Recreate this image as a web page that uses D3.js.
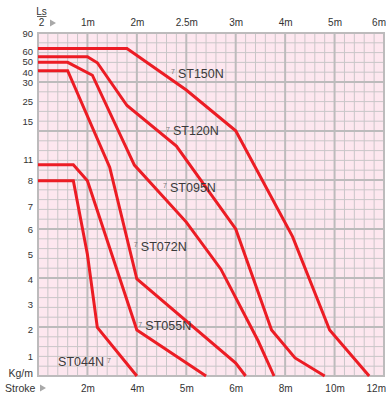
<!DOCTYPE html>
<html>
<head>
<meta charset="utf-8">
<title>Stroke / load chart</title>
<style>
  body { margin: 0; background: #fff; }
  svg text { font-family: "Liberation Sans", Arial, sans-serif; }
</style>
</head>
<body>
<svg id="chart" width="386" height="396"></svg>
<script src="https://cdn.jsdelivr.net/npm/d3@7/dist/d3.min.js"></script>
<script>
// stroke (bottom axis) and half stroke Ls/2 (top axis), one value per major grid line
var strokeTicks = [0, 2, 4, 5, 6, 8, 10, 12];
var bottomLabels = ["", "2m", "4m", "5m", "6m", "8m", "10m", "12m"];
var topLabels = ["", "1m", "2m", "2.5m", "3m", "4m", "5m", "6m"];

// load ticks on the left, kg/m (0 is the bottom edge, not labelled)
var loadTicks = [90, 60, 50, 40, 30, 25, 15, 11, 8, 7, 6, 5, 4, 3, 2, 1, 0];

// curves: [stroke m, load kg/m]
var models = ["ST150N", "ST120N", "ST095N", "ST072N", "ST055N", "ST044N"];
var st150n = [[0, 65], [3.6, 65], [5, 28], [6, 14], [8.3, 5.7], [9.8, 2], [11.4, 0]];
var st120n = [[0, 55], [2, 55], [2.4, 49], [3.6, 23], [4.8, 12.4], [6, 6], [7.45, 2], [8.4, 0.92], [9.6, 0]];
var st095n = [[0, 49.4], [1.2, 49.4], [2.2, 37], [3.9, 10.2], [5, 6.3], [5.7, 4.4], [6.9, 1.6], [7.55, 0]];
var st072n = [[0, 41.4], [1.2, 41.4], [2.9, 9.9], [4, 4], [6, 0.66], [6.4, 0]];
var st055n = [[0, 10.25], [1.43, 10.25], [2, 8], [4, 2], [5.4, 0]];
var st044n = [[0, 8], [1.43, 8], [2, 5], [2.4, 2.1], [4, 0]];
var curves = [st150n, st120n, st095n, st072n, st055n, st044n];

// where each model name sits, [stroke, load]
var labelAt = [[4.73, 39], [4.63, 14], [4.57, 7.74], [3.96, 5.33], [4.07, 2.17], [2.79, 0.73]];

// ---------- layout ----------
var plot = {left: 38, right: 384, top: 33, bottom: 376};
var cells = 35;
var svg = d3.select('#chart');

var majorX = d3.range(strokeTicks.length).map(function(i) {
  return plot.left + i * (plot.right - plot.left) / 7;
});
var x = d3.scaleLinear().domain(strokeTicks).range(majorX);

// grid rows at which the load labels sit
var rowAt = [0, 1.9, 2.93, 4, 5.03, 7, 9, 12.9, 15.07, 17.65, 20, 22.6, 25.1, 27.7, 30.3, 33, 35];
var cellH = (plot.bottom - plot.top) / cells;
var y = d3.scaleLinear().domain(loadTicks).range(rowAt.map(function(r) { return plot.top + r * cellH; }));

var gx = d3.scaleLinear().domain([0, cells]).range([plot.left, plot.right]);
var gy = d3.scaleLinear().domain([0, cells]).range([plot.top, plot.bottom]);

svg.append('rect')
  .attr('x', plot.left).attr('y', plot.top)
  .attr('width', plot.right - plot.left).attr('height', plot.bottom - plot.top)
  .attr('fill', '#fde7ef');

var minor = d3.range(cells + 1).filter(function(i) { return i % 5; });
var major = d3.range(0, cells + 1, 5);

svg.append('g').selectAll('line').data(minor).enter().append('line')
  .attr('x1', function(d) { return gx(d); }).attr('x2', function(d) { return gx(d); })
  .attr('y1', plot.top).attr('y2', plot.bottom)
  .attr('stroke', '#c9c6c8').attr('stroke-width', 1);
svg.append('g').selectAll('line').data(minor).enter().append('line')
  .attr('y1', function(d) { return gy(d); }).attr('y2', function(d) { return gy(d); })
  .attr('x1', plot.left).attr('x2', plot.right)
  .attr('stroke', '#c9c6c8').attr('stroke-width', 1);
svg.append('g').selectAll('line').data(major).enter().append('line')
  .attr('x1', function(d) { return gx(d); }).attr('x2', function(d) { return gx(d); })
  .attr('y1', plot.top - 1).attr('y2', plot.bottom + 1)
  .attr('stroke', '#bdbbbc').attr('stroke-width', 2);
svg.append('g').selectAll('line').data(major).enter().append('line')
  .attr('y1', function(d) { return gy(d); }).attr('y2', function(d) { return gy(d); })
  .attr('x1', plot.left - 1).attr('x2', plot.right + 1)
  .attr('stroke', '#bdbbbc').attr('stroke-width', 2);

// ---------- axes ----------
function plain(g) {
  g.select('.domain').remove();
  g.selectAll('text').attr('fill', '#333').attr('font-size', 10)
    .attr('y', 0).attr('dy', '0.35em');
  // last label would run past the right edge
  g.selectAll('.tick').filter(function(d) { return d === 12; }).select('text')
    .attr('text-anchor', 'end').attr('x', 386 - x(12) - 0.5);
}

svg.append('g').attr('transform', 'translate(0,22.5)')
  .call(d3.axisTop(x).tickValues(strokeTicks.slice(1)).tickSize(0)
    .tickFormat(function(d) { return topLabels[strokeTicks.indexOf(d)]; }))
  .call(plain);

svg.append('g').attr('transform', 'translate(0,388)')
  .call(d3.axisBottom(x).tickValues(strokeTicks.slice(1)).tickSize(0)
    .tickFormat(function(d) { return bottomLabels[strokeTicks.indexOf(d)]; }))
  .call(plain);

svg.append('g').attr('transform', 'translate(33,0)')
  .call(d3.axisLeft(y).tickValues(loadTicks.slice(0, -1)).tickSize(0).tickPadding(0))
  .call(function(g) {
    g.select('.domain').remove();
    g.selectAll('text').attr('fill', '#333').attr('font-size', 9.5).attr('x', 0);
  });

// axis captions
svg.append('text').attr('x', 33).attr('y', 373).attr('text-anchor', 'end')
  .attr('dy', '0.35em').attr('font-size', 10.5).attr('fill', '#333').text('Kg/m');
svg.append('text').attr('x', 5).attr('y', 388).attr('dy', '0.35em')
  .attr('font-size', 10.5).attr('fill', '#333').text('Stroke');
svg.append('path').attr('d', 'M40,384.5 L46,388 L40,391.5 Z').attr('fill', '#a9a9a9');

svg.append('text').attr('x', 41.5).attr('y', 11.5).attr('dy', '0.35em').attr('text-anchor', 'middle')
  .attr('font-size', 10).attr('fill', '#333').text('Ls');
svg.append('line').attr('x1', 37).attr('x2', 46.5).attr('y1', 16.5).attr('y2', 16.5)
  .attr('stroke', '#333').attr('stroke-width', 0.8);
svg.append('text').attr('x', 41.5).attr('y', 22.5).attr('dy', '0.35em').attr('text-anchor', 'middle')
  .attr('font-size', 10).attr('fill', '#333').text('2');
svg.append('path').attr('d', 'M50,19.5 L56,23 L50,26.5 Z').attr('fill', '#a9a9a9');

// ---------- curves ----------
var line = d3.line().x(function(d) { return x(d[0]); }).y(function(d) { return y(d[1]); });

svg.append('g').selectAll('path').data(curves).enter().append('path')
  .attr('d', line)
  .attr('fill', 'none')
  .attr('stroke', '#ec1c24')
  .attr('stroke-width', 3)
  .attr('stroke-linejoin', 'miter');

var labels = svg.append('g').selectAll('g').data(models).enter().append('g')
  .attr('transform', function(d, i) {
    return 'translate(' + x(labelAt[i][0]) + ',' + y(labelAt[i][1]) + ')';
  });

labels.append('text')
  .attr('x', function(d) { return d === 'ST044N' ? -3 : 5; })
  .attr('dy', '0.36em')
  .attr('text-anchor', function(d) { return d === 'ST044N' ? 'end' : 'start'; })
  .attr('font-size', 12.5).attr('fill', '#3a3a3a')
  .text(function(d) { return d; });

labels.append('text')
  .attr('x', function(d) { return d === 'ST044N' ? 0 : -2; })
  .attr('y', 1)
  .attr('font-size', 7).attr('fill', '#777')
  .text('7');
</script>
</body>
</html>
